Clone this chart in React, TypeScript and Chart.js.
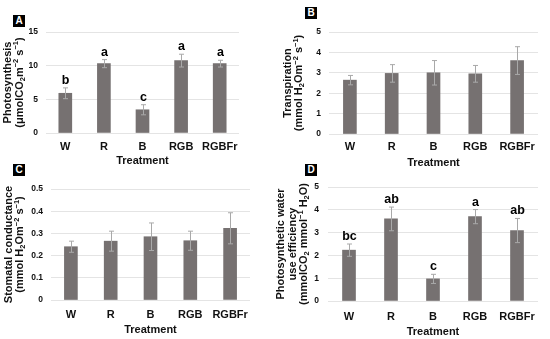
import React, { useEffect, useRef } from 'react';
import { Chart, registerables } from 'chart.js';

Chart.register(...registerables);
Chart.defaults.font.family = '"Liberation Sans", Arial, sans-serif';

const categories = ['W', 'R', 'B', 'RGB', 'RGBFr'];

const photosynthesis = [5.9, 10.3, 3.45, 10.75, 10.3];
const photosynthesisErr = [0.8, 0.6, 0.75, 0.95, 0.5];
const photosynthesisLetters = ['b', 'a', 'c', 'a', 'a'];

const transpiration = [2.64, 2.97, 3.0, 2.95, 3.6];
const transpirationErr = [0.23, 0.43, 0.6, 0.41, 0.68];

const conductance = [0.24, 0.265, 0.285, 0.267, 0.323];
const conductanceErr = [0.025, 0.045, 0.062, 0.043, 0.07];

const wue = [2.23, 3.6, 0.97, 3.7, 3.09];
const wueErr = [0.27, 0.52, 0.2, 0.31, 0.53];
const wueLetters = ['bc', 'ab', 'c', 'a', 'ab'];

const BAR = '#767171';
const FONT = '"Liberation Sans", Arial, sans-serif';

type Seg = { t: string; k: '' | '_' | '^' };
function parseRich(s: string): Seg[] {
  const out: Seg[] = [];
  const re = /([_^])\{([^}]*)\}/g;
  let last = 0;
  let m: RegExpExecArray | null;
  while ((m = re.exec(s))) {
    if (m.index > last) out.push({ t: s.slice(last, m.index), k: '' });
    out.push({ t: m[2], k: m[1] as '_' | '^' });
    last = m.index + m[0].length;
  }
  if (last < s.length) out.push({ t: s.slice(last), k: '' });
  return out;
}

type PanelProps = {
  left: number; top: number; width: number; height: number;
  values: number[]; errors: number[]; letters?: string[];
  yMax: number; yStep: number; yTitle: string[];
  padTop: number; padRight: number; yWidth: number; xHeight: number;
  yTitleX: number; xTitlePad: number; xTickPad: number; yTickPad: number;
};

function Panel(p: PanelProps) {
  const ref = useRef<HTMLCanvasElement>(null);
  useEffect(() => {
    const errPlugin = {
      id: 'errLetters',
      afterDatasetsDraw(chart: any) {
        const ctx = chart.ctx;
        const meta = chart.getDatasetMeta(0);
        const ys = chart.scales.y;
        ctx.save();
        meta.data.forEach((bar: any, i: number) => {
          const v = p.values[i];
          const e = p.errors[i];
          const x = Math.round(bar.x) + 0.5;
          const yt = ys.getPixelForValue(v + e);
          const yb = ys.getPixelForValue(v - e);
          ctx.strokeStyle = '#a9a9a9';
          ctx.lineWidth = 1;
          ctx.beginPath();
          ctx.moveTo(x, yt); ctx.lineTo(x, yb);
          ctx.moveTo(x - 2.5, yt); ctx.lineTo(x + 2.5, yt);
          ctx.moveTo(x - 2.5, yb); ctx.lineTo(x + 2.5, yb);
          ctx.stroke();
          if (p.letters) {
            ctx.fillStyle = '#000';
            ctx.font = `bold 12.5px ${FONT}`;
            ctx.textAlign = 'center';
            ctx.textBaseline = 'alphabetic';
            ctx.fillText(p.letters[i], x, yt - 4);
          }
        });
        ctx.restore();
      },
      afterDraw(chart: any) {
        const ctx = chart.ctx;
        const area = chart.chartArea;
        const cy = (area.top + area.bottom) / 2;
        const size = 11;
        const gap = 11.5;
        const small = 7.5;
        ctx.save();
        ctx.fillStyle = '#111';
        ctx.textBaseline = 'middle';
        ctx.textAlign = 'left';
        p.yTitle.forEach((line, li) => {
          const segs = parseRich(line);
          let total = 0;
          const widths = segs.map((s) => {
            ctx.font = `bold ${s.k ? small : size}px ${FONT}`;
            const w = ctx.measureText(s.t).width;
            total += w;
            return w;
          });
          ctx.save();
          ctx.translate(p.yTitleX + li * gap, cy);
          ctx.rotate(-Math.PI / 2);
          let xx = -total / 2;
          segs.forEach((s, si) => {
            ctx.font = `bold ${s.k ? small : size}px ${FONT}`;
            const dy = s.k === '_' ? 3 : s.k === '^' ? -3.2 : 0;
            ctx.fillText(s.t, xx, dy);
            xx += widths[si];
          });
          ctx.restore();
        });
        ctx.restore();
      },
    };
    const chart = new Chart(ref.current as HTMLCanvasElement, {
      type: 'bar',
      data: {
        labels: categories,
        datasets: [{ data: p.values, backgroundColor: BAR, barThickness: 13 }],
      },
      options: {
        animation: false,
        responsive: false,
        layout: { padding: { left: 0, right: p.padRight, top: p.padTop, bottom: 0 } },
        plugins: { legend: { display: false }, tooltip: { enabled: false } },
        scales: {
          x: {
            grid: { display: false, drawTicks: false },
            border: { display: false },
            ticks: { color: '#111', font: { size: 11, weight: 'bold' }, padding: p.xTickPad, maxRotation: 0 },
            title: {
              display: true, text: 'Treatment', color: '#111',
              font: { size: 11, weight: 'bold', lineHeight: 1 },
              padding: { top: 0, bottom: p.xTitlePad },
            },
            afterFit: (s: any) => { s.height = p.xHeight; },
          },
          y: {
            min: 0, max: p.yMax,
            grid: { color: '#e4e4e4', drawTicks: false },
            border: { display: false },
            ticks: { stepSize: p.yStep, color: '#111', font: { size: 8.5, weight: 'bold' }, padding: p.yTickPad },
            afterFit: (s: any) => { s.width = p.yWidth; },
          },
        },
      } as any,
      plugins: [errPlugin],
    });
    return () => chart.destroy();
  }, []);
  return (
    <canvas
      ref={ref}
      width={p.width}
      height={p.height}
      style={{ position: 'absolute', left: p.left, top: p.top, width: p.width, height: p.height }}
    />
  );
}

function Tag({ x, y, t }: { x: number; y: number; t: string }) {
  return (
    <div
      style={{
        position: 'absolute', left: x, top: y, width: 12, height: 12, background: '#000', color: '#fff',
        fontFamily: FONT, fontWeight: 'bold', fontSize: 10, lineHeight: '12px', textAlign: 'center',
      }}
    >
      {t}
    </div>
  );
}

export default function App() {
  return (
    <div style={{ position: 'absolute', left: 0, top: 0, width: 550, height: 339, background: '#fff', overflow: 'hidden' }}>
      <Panel
        left={0} top={0} width={275} height={170}
        values={photosynthesis} errors={photosynthesisErr} letters={photosynthesisLetters}
        yMax={15} yStep={5} yTitle={['Photosynthesis', '(μmolCO_{2}m^{−2} s^{−1})']}
        padTop={32} padRight={36} yWidth={46} xHeight={37}
        yTitleX={8} xTitlePad={4} xTickPad={7} yTickPad={8}
      />
      <Panel
        left={275} top={0} width={275} height={170}
        values={transpiration} errors={transpirationErr}
        yMax={5} yStep={1} yTitle={['Transpiration', '(mmol H_{2}Om^{−2} s^{−1})']}
        padTop={32} padRight={12} yWidth={54} xHeight={36}
        yTitleX={12.5} xTitlePad={1.5} xTickPad={6} yTickPad={8}
      />
      <Panel
        left={0} top={170} width={275} height={169}
        values={conductance} errors={conductanceErr}
        yMax={0.5} yStep={0.1} yTitle={['Stomatal conductance', '(mmol H_{2}Om^{−2} s^{−1})']}
        padTop={19} padRight={25} yWidth={51} xHeight={39}
        yTitleX={8.5} xTitlePad={3.5} xTickPad={8} yTickPad={8}
      />
      <Panel
        left={275} top={170} width={275} height={169}
        values={wue} errors={wueErr} letters={wueLetters}
        yMax={5} yStep={1} yTitle={['Photosynthetic water', 'use efficiency', '(mmolCO_{2} mmol^{−1} H_{2}O)']}
        padTop={17} padRight={12} yWidth={53} xHeight={38}
        yTitleX={6} xTitlePad={1.5} xTickPad={9} yTickPad={9}
      />
      <Tag x={13} y={15} t="A" />
      <Tag x={305} y={7} t="B" />
      <Tag x={13} y={164} t="C" />
      <Tag x={305} y={164} t="D" />
    </div>
  );
}
